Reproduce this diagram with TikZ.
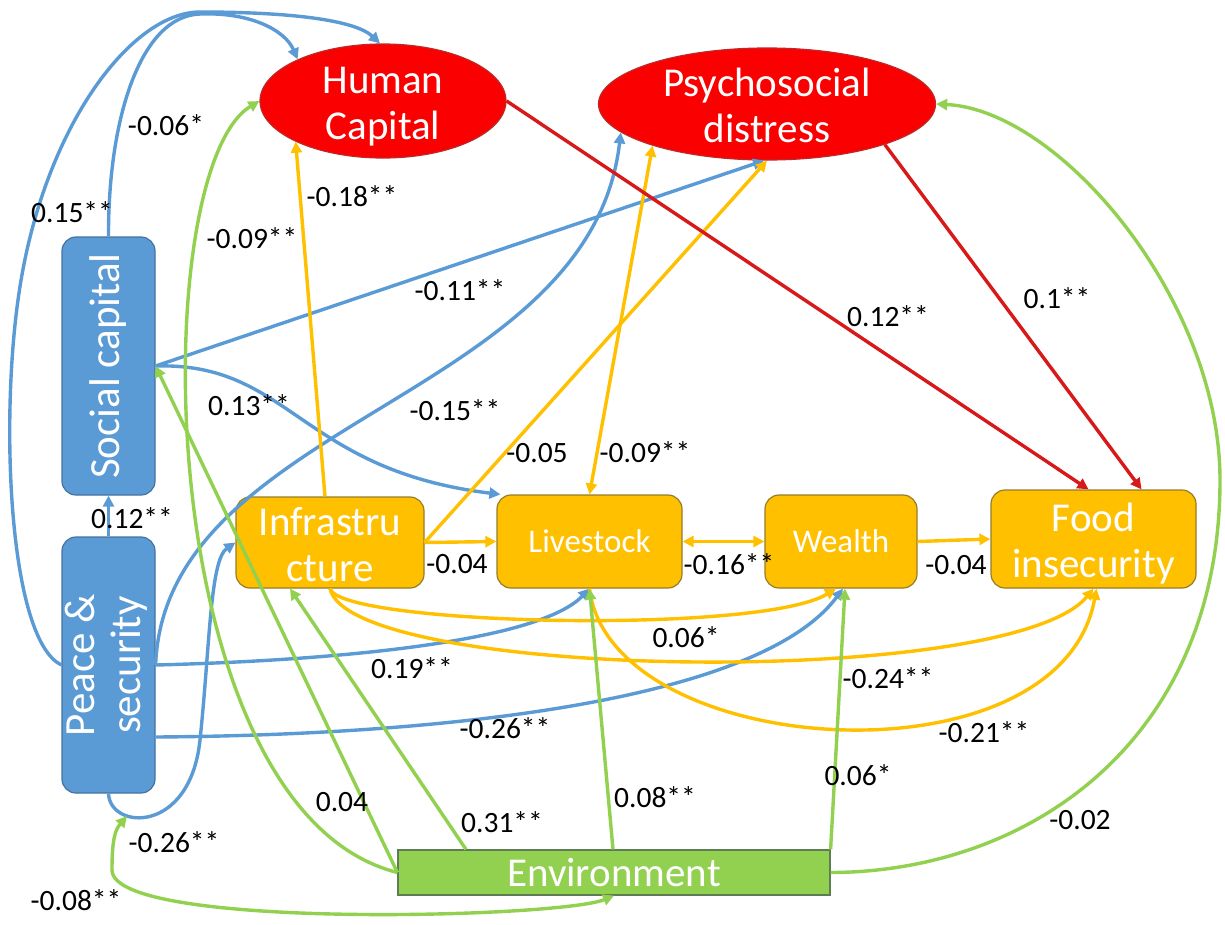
\documentclass[tikz,border=0pt]{standalone}
\usepackage{fontspec}
\setmainfont{Carlito}
\usetikzlibrary{arrows.meta,shapes.geometric}

\definecolor{nodered}{RGB}{250,0,0}
\definecolor{redborder}{RGB}{190,40,40}
\definecolor{redline}{RGB}{215,25,25}
\definecolor{pblue}{RGB}{91,155,213}
\definecolor{pblueborder}{RGB}{70,115,160}
\definecolor{porange}{RGB}{255,192,0}
\definecolor{porangeborder}{RGB}{150,125,40}
\definecolor{pgreen}{RGB}{146,208,80}
\definecolor{pgreenborder}{RGB}{95,125,85}

% two centred lines whose box does not enlarge the node
\newcommand{\twolines}[2]{\smash{\raisebox{-13pt}{\begin{tabular}{@{}c@{}}#1\\#2\end{tabular}}}}

\begin{document}
\begin{tikzpicture}[x=1pt,y=-1pt,
  txt/.style={font=\fontsize{41}{46}\selectfont, text=white, inner sep=0pt},
  latent/.style={txt, ellipse, fill=nodered, draw=redborder, line width=1.2pt},
  bluebox/.style={txt, font=\fontsize{43}{46}\selectfont, rectangle, rounded corners=14pt, fill=pblue, draw=pblueborder, line width=1.2pt, minimum width=93pt},
  orangebox/.style={txt, rectangle, rounded corners=14pt, fill=porange, draw=porangeborder, line width=1.2pt},
  greenbox/.style={txt, rectangle, fill=pgreen, draw=pgreenborder, line width=1.2pt},
  lab/.style={font=\fontsize{29.5}{34}\selectfont, text=black, inner sep=0pt},
  link/.style={line width=3.4pt, -{Triangle[length=11pt,width=11pt]}},
  twoway/.style={{Triangle[length=11pt,width=11pt]}-{Triangle[length=11pt,width=11pt]}},
  blink/.style={link, draw=pblue},
  olink/.style={link, draw=porange},
  glink/.style={link, draw=pgreen},
  rlink/.style={link, draw=redline}
]
\fill[white] (0,0) rectangle (1225,924);
\useasboundingbox (0,0) rectangle (1225,924);

% ---- variables ----
\node[latent, minimum width=246pt, minimum height=114pt] (hc) at (383,101) {\twolines{Human}{Capital}};
\node[latent, minimum width=337pt, minimum height=112pt] (psy) at (767,104) {\twolines{Psychosocial}{distress}};
\node[bluebox, minimum height=258pt] (soc) at (108.5,366) {\rotatebox{90}{Social capital}};
\node[bluebox, minimum height=256pt] (peace) at (108.5,665) {\rotatebox{90}{\begin{tabular}{@{}c@{}}Peace \&\\security\end{tabular}}};
\node[orangebox, minimum width=188pt, minimum height=91pt] (infra) at (330,542.5) {\twolines{Infrastru}{cture}};
\node[orangebox, minimum width=185pt, minimum height=93pt, font=\fontsize{33}{40}\selectfont] (liv) at (589.5,541.5) {Livestock};
\node[orangebox, minimum width=152pt, minimum height=93pt, font=\fontsize{33}{40}\selectfont] (wea) at (841,541.5) {Wealth};
\node[orangebox, minimum width=205pt, minimum height=98pt] (food) at (1093.5,539) {\twolines{Food}{insecurity}};
\node[greenbox, minimum width=432pt, minimum height=45pt] (env) at (614,872.5) {Environment};

% ---- blue paths: peace & security, social capital ----
\draw[blink] (peace.west) .. controls (10,640) and (0,430) .. (18,300)
  .. controls (41,131) and (130,12) .. (200,12)
  .. controls (290,12) and (355,20) .. ([xshift=-3pt]hc.north);
\draw[blink] (soc.north) .. controls (108,120) and (140,16) .. (200,14)
  .. controls (250,12) and (285,30) .. (hc.154);
\draw[blink] (soc.east) -- ([xshift=-3pt]psy.south);
\draw[blink] (soc.east) .. controls (290,362) and (300,470) .. ([xshift=4pt]liv.north west);
\draw[blink] (peace.east) .. controls (165,420) and (590,400) .. (psy.191);
\draw[blink] (peace.east) .. controls (350,660) and (540,640) .. (liv.south);
\draw[blink] ([yshift=-72pt]peace.east) .. controls (450,735) and (760,700) .. ([xshift=2pt]wea.south);
\draw[blink] (peace.south) .. controls (110,830) and (190,835) .. (200,740) coordinate[pos=0.3] (mod)
  .. controls (210,645) and (210,560) .. (infra.west);
\draw[blink] (peace.north) -- (soc.south);

% ---- orange paths ----
\draw[olink] ([xshift=-5pt]infra.north) -- (hc.205);
\draw[olink] (infra.east) -- (psy.south);
\draw[olink, twoway] (liv.north) -- (psy.200);
\draw[olink] (infra.east) -- (liv.west);
\draw[olink, twoway] (liv.east) -- (wea.west);
\draw[olink] (wea.east) -- (food.west);
\draw[olink] (infra.south) .. controls (340,625) and (760,635) .. ([xshift=-5pt]wea.south);
\draw[olink] (infra.south) .. controls (350,680) and (1010,690) .. (food.south);
\draw[olink] (liv.south) .. controls (610,760) and (1060,790) .. ([xshift=3pt]food.south);

% ---- red paths ----
\draw[rlink] (hc.east) -- ([xshift=-5pt]food.north);
\draw[rlink] (psy.-19) -- ([xshift=48pt]food.north);

% ---- green paths: environment ----
\draw[glink] (env.west) .. controls (150,810) and (145,170) .. (hc.west);
\draw[glink] (env.west) -- (soc.east);
\draw[glink] ([xshift=-148pt]env.north) -- ([xshift=-40pt]infra.south);
\draw[glink] ([xshift=-1pt]env.north) -- (liv.south);
\draw[glink] (env.north east) -- ([xshift=4pt]wea.south);
\draw[glink] (env.east) .. controls (1030,872) and (1220,740) .. (1220,480)
  .. controls (1220,300) and (1060,110) .. (psy.east);
\draw[glink, twoway] (env.south) .. controls (560,918) and (112,930) .. (112,870)
  .. controls (112,840) and (115,830) .. (mod);

% ---- coefficients ----
\node[lab] (l01) at (166,125) {-0.06*};
\node[lab] (l02) at (72,212) {0.15**};
\node[lab] (l03) at (352,196) {-0.18**};
\node[lab] (l04) at (252,238) {-0.09**};
\node[lab] (l05) at (460,290) {-0.11**};
\node[lab] (l06) at (888,316) {0.12**};
\node[lab] (l07) at (1057,298) {0.1**};
\node[lab] (l08) at (249,405) {0.13**};
\node[lab] (l09) at (455,410) {-0.15**};
\node[lab] (l10) at (537,453) {-0.05};
\node[lab] (l11) at (645,452) {-0.09**};
\node[lab] (l12) at (132,518) {0.12**};
\node[lab] (l13) at (457,564) {-0.04};
\node[lab] (l14) at (729,564) {-0.16**};
\node[lab] (l15) at (956,565) {-0.04};
\node[lab] (l16) at (686,637) {0.06*};
\node[lab] (l17) at (412,668) {0.19**};
\node[lab] (l18) at (888,678) {-0.24**};
\node[lab] (l19) at (505,728) {-0.26**};
\node[lab] (l20) at (984,732) {-0.21**};
\node[lab] (l21) at (858,775) {0.06*};
\node[lab] (l22) at (342,802) {0.04};
\node[lab] (l23) at (655,797) {0.08**};
\node[lab] (l24) at (502,822) {0.31**};
\node[lab] (l25) at (1080,820) {-0.02};
\node[lab] (l26) at (174,842) {-0.26**};
\node[lab] (l27) at (76,900) {-0.08**};
\end{tikzpicture}
\end{document}
